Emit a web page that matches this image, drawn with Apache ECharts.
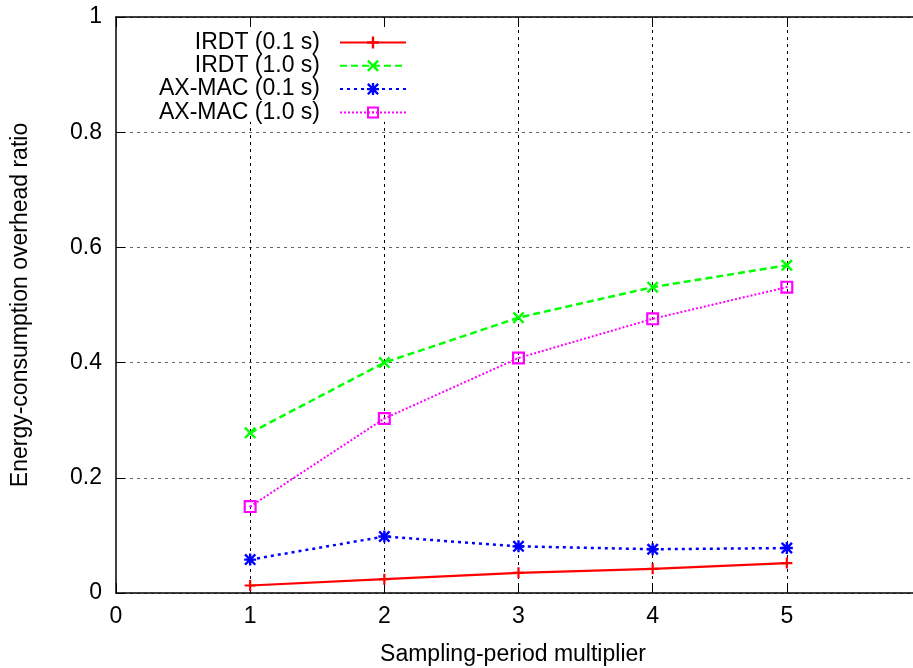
<!DOCTYPE html>
<html>
<head>
<meta charset="utf-8">
<script src="https://cdn.jsdelivr.net/npm/echarts@6/dist/echarts.min.js"></script>
<style>
  html, body { margin: 0; padding: 0; background: #fff; }
  #chart { width: 913px; height: 668px; }
</style>
</head>
<body>
<div id="chart"></div>
<script>
// data
const multipliers = [1, 2, 3, 4, 5]
const irdt01 = [0.013, 0.024, 0.035, 0.042, 0.052]
const irdt10 = [0.278, 0.400, 0.478, 0.531, 0.569]
const axmac01 = [0.058, 0.098, 0.081, 0.076, 0.078]
const axmac10 = [0.150, 0.303, 0.408, 0.476, 0.531]
const seriesNames = ['IRDT (0.1 s)', 'IRDT (1.0 s)', 'AX-MAC (0.1 s)', 'AX-MAC (1.0 s)']

// vertical grid lines; the opaque key hides the top of the first two
const gridTicks = [1, 2, 3, 4, 5]
const keyBottom = 0.818

const FONT = "'Liberation Sans', Arial, sans-serif"
const FS = 23

// gnuplot-like point glyphs, drawn as filled outlines
const PLUS = 'path://M-1.2,-6H1.2V-1.2H6V1.2H1.2V6H-1.2V1.2H-6V-1.2H-1.2Z'
const XPART = 'M-4.3,-6L0,-1.7L4.3,-6L6,-4.3L1.7,0L6,4.3L4.3,6L0,1.7L-4.3,6L-6,4.3L-1.7,0L-6,-4.3Z'
const CROSS = 'path://' + XPART
const STAR = PLUS + XPART
const BOX = 'path://M-6,-6H6V6H-6ZM-4,-4V4H4V-4ZM-0.8,-0.8H0.8V0.8H-0.8Z'

const pairs = ys => multipliers.map((x, i) => [x, ys[i]])

const makeSeries = (name, ys, color, symbol, size, lineType, width) => ({
    name,
    type: 'line',
    data: pairs(ys),
    symbol,
    symbolSize: size,
    showAllSymbol: true,
    color,
    itemStyle: { color },
    lineStyle: { color, width, type: lineType },
    emphasis: { disabled: true },
    animation: false,
    z: 3,
})

const series = [
    makeSeries(seriesNames[0], irdt01, '#ff0000', PLUS, 11, 'solid', 2.2),
    makeSeries(seriesNames[1], irdt10, '#00ff00', CROSS, 12, [7, 4], 2.5),
    makeSeries(seriesNames[2], axmac01, '#0000ff', STAR, 12, [3, 4], 2.5),
    makeSeries(seriesNames[3], axmac10, '#ff00ff', BOX, 13, [2, 2], 2),
]

// grid lines as a mark line under the data
series[0].markLine = {
    silent: true,
    animation: false,
    z: 1,
    symbol: 'none',
    label: { show: false },
    emphasis: { disabled: true },
    lineStyle: { color: '#000', width: 1, type: [3, 4] },
    data: gridTicks.map(x => [{ coord: [x, 0] }, { coord: [x, x <= 2 ? keyBottom : 1] }]),
}

const chart = echarts.init(document.getElementById('chart'), null, { renderer: 'canvas' })

chart.setOption({
    backgroundColor: '#fff',
    textStyle: { fontFamily: FONT },
    // the right edge of the plot (x = 6) lies just past the picture
    grid: { left: 116, right: -8, top: 17, bottom: 75, show: false, outerBoundsMode: 'none', containLabel: false },
    legend: {
        orient: 'vertical',
        align: 'right',
        right: 496,
        top: 31,
        padding: [0, 10, 0, 10],
        itemWidth: 66,
        itemHeight: 15,
        itemGap: 0.3,
        data: seriesNames,
        textStyle: { fontFamily: FONT, fontSize: FS, color: '#000', padding: [0, 15, 0, 0] },
        selectedMode: false,
    },
    xAxis: [
        {
            type: 'value',
            min: 0,
            max: 6,
            interval: 1,
            name: 'Sampling-period multiplier',
            nameLocation: 'middle',
            nameGap: 50,
            nameTextStyle: { fontFamily: FONT, fontSize: FS, color: '#000', padding: [0, 11, 0, 0] },
            axisLine: { show: true, lineStyle: { color: '#000', width: 1.5 } },
            axisTick: { show: true, inside: true, length: 10, lineStyle: { color: '#000', width: 1 } },
            axisLabel: { fontFamily: FONT, fontSize: FS, color: '#000', margin: 12 },
            splitLine: { show: false },
        },
        {
            type: 'value',
            position: 'top',
            min: 0,
            max: 6,
            interval: 1,
            axisLine: { show: true, lineStyle: { color: '#000', width: 1.5 } },
            axisTick: { show: true, inside: true, length: 10, lineStyle: { color: '#000', width: 1 } },
            axisLabel: { show: false },
            splitLine: { show: false },
        },
    ],
    yAxis: {
        type: 'value',
        min: 0,
        max: 1,
        interval: 0.2,
        name: 'Energy-consumption overhead ratio',
        nameLocation: 'middle',
        nameRotate: 90,
        nameGap: 84,
        nameTextStyle: { fontFamily: FONT, fontSize: FS, color: '#000' },
        axisLine: { show: true, lineStyle: { color: '#000', width: 1.5 } },
        axisTick: { show: true, inside: true, length: 9, lineStyle: { color: '#000', width: 1 } },
        axisLabel: { fontFamily: FONT, fontSize: FS, color: '#000', margin: 14 },
        splitLine: { show: true, lineStyle: { color: '#666', width: 1, type: [3, 4] } },
    },
    series,
})
</script>
</body>
</html>
